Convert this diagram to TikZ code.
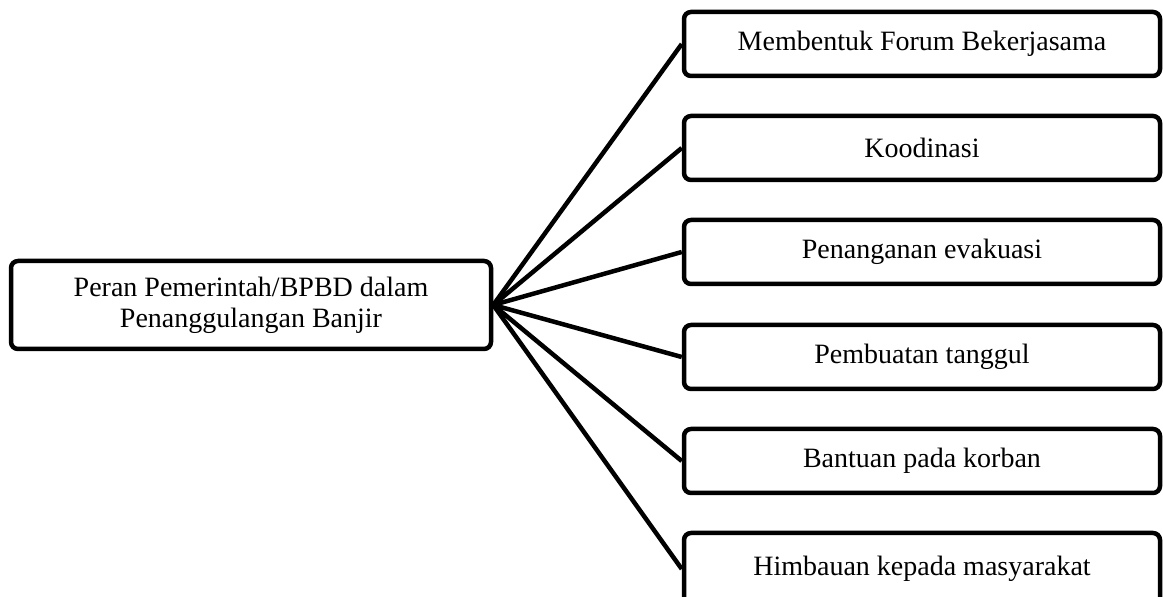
\documentclass[tikz,border=0pt]{standalone}
\usepackage{fontspec}
\setmainfont{Liberation Serif}
\begin{document}
\begin{tikzpicture}[x=1pt,y=1pt,
  box/.style={draw=black, line width=4.5pt, rounded corners=7pt, fill=white, align=center, inner sep=0pt, font=\fontsize{28}{31}\selectfont},
  leftbox/.style={box, minimum width=480pt, minimum height=88pt},
  rightbox/.style={box, minimum width=476pt, minimum height=64pt},
  link/.style={draw=black, line width=4.5pt}]
\useasboundingbox (0,0) rectangle (1163,597);
\node[leftbox] (root) at (251,292) {Peran Pemerintah/BPBD dalam\\Penanggulangan Banjir};
\node[rightbox] (r1) at (922,553) {Membentuk Forum Bekerjasama};
\node[rightbox] (r2) at (922,449) {Koodinasi};
\node[rightbox] (r3) at (922,345) {Penanganan evakuasi};
\node[rightbox] (r4) at (922,240) {Pembuatan tanggul};
\node[rightbox] (r5) at (922,136) {Bantuan pada korban};
\node[rightbox, minimum height=72pt] (r6) at (922,28) {Himbauan kepada masyarakat};
\foreach \n in {r1,r2,r3,r4,r5,r6}{
  \draw[link] (root.east) -- (\n.west);
}
\end{tikzpicture}
\end{document}
